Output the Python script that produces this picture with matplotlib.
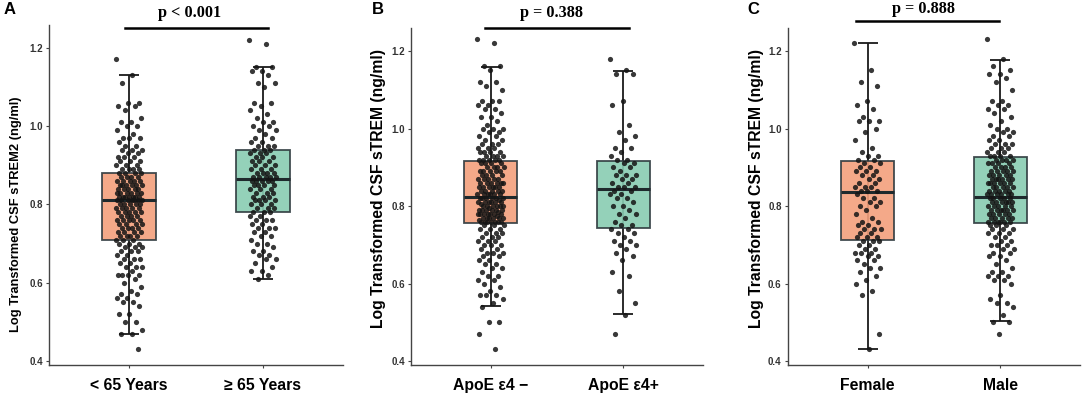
"""
Three box plots of log transformed CSF sTREM2 with jittered points:
age, ApoE e4 status and sex.
"""

import numpy as np
import matplotlib
matplotlib.use('Agg')
import matplotlib.pyplot as plt

plt.rcParams['font.family'] = ['Liberation Sans', 'DejaVu Sans']

################################################################################
#
# data
#
# panel A: age
age_labels = ['< 65 Years', '\u2265 65 Years']
age_young = [1.17, 1.13, 1.11, 1.06, 1.06, 1.05, 1.05, 1.04, 1.02, 1.01, 1.01, 1.00, 1.00,
             0.99, 0.98, 0.97, 0.97, 0.97, 0.96, 0.95, 0.95, 0.94, 0.94, 0.94, 0.93, 0.93,
             0.92, 0.92, 0.92, 0.91, 0.91, 0.91, 0.90, 0.90, 0.90, 0.89, 0.89, 0.89, 0.89,
             0.88, 0.88, 0.88,
             0.88, 0.87, 0.87, 0.87, 0.87, 0.86, 0.86, 0.86, 0.86, 0.86, 0.85, 0.85, 0.85,
             0.85, 0.85, 0.85, 0.84, 0.84, 0.84, 0.84, 0.84, 0.83, 0.83, 0.83, 0.83, 0.83,
             0.83, 0.82, 0.82, 0.82, 0.82, 0.82, 0.82, 0.82, 0.81, 0.81, 0.81, 0.81, 0.81,
             0.81, 0.81,
             0.80, 0.80, 0.80, 0.80, 0.80, 0.79, 0.79, 0.79, 0.79, 0.79, 0.78, 0.78, 0.78,
             0.78, 0.78, 0.77, 0.77, 0.77, 0.77, 0.76, 0.76, 0.76, 0.76, 0.76, 0.75, 0.75,
             0.75, 0.75, 0.74, 0.74, 0.74, 0.74, 0.73, 0.73, 0.73, 0.73, 0.72, 0.72, 0.72,
             0.72, 0.71, 0.71, 0.71,
             0.70, 0.70, 0.70, 0.69, 0.69, 0.69, 0.68, 0.68, 0.68, 0.67, 0.67, 0.66, 0.66,
             0.66, 0.65, 0.65, 0.64, 0.64, 0.64, 0.63, 0.62, 0.62, 0.62, 0.62, 0.61, 0.60,
             0.59, 0.58, 0.57, 0.57, 0.56, 0.56, 0.55, 0.55, 0.54, 0.52, 0.52, 0.50, 0.50,
             0.48, 0.47, 0.47, 0.43]
age_old = [1.22, 1.21, 1.15, 1.15, 1.14, 1.14, 1.13, 1.11, 1.11, 1.10, 1.06, 1.06, 1.05,
           1.04, 1.03, 1.02, 1.01, 1.01, 1.00, 1.00, 0.99, 0.99, 0.98, 0.97, 0.97, 0.96,
           0.96, 0.95, 0.95, 0.95, 0.94, 0.94,
           0.94, 0.93, 0.93, 0.93, 0.92, 0.92, 0.92, 0.91, 0.91, 0.91, 0.90, 0.90, 0.90,
           0.89, 0.89, 0.89, 0.88, 0.88, 0.88, 0.88, 0.87, 0.87, 0.87, 0.87, 0.87, 0.86,
           0.86, 0.86, 0.86, 0.86,
           0.85, 0.85, 0.85, 0.85, 0.84, 0.84, 0.84, 0.83, 0.83, 0.83, 0.82, 0.82, 0.82,
           0.81, 0.81, 0.81, 0.81, 0.80, 0.80, 0.80, 0.79, 0.79, 0.79, 0.78, 0.78, 0.78,
           0.77, 0.77, 0.76, 0.76, 0.76, 0.75, 0.75, 0.74, 0.74, 0.74, 0.73, 0.73, 0.72,
           0.72, 0.71, 0.70, 0.70, 0.69, 0.68, 0.68, 0.67, 0.67, 0.66, 0.66, 0.65, 0.64,
           0.63, 0.63, 0.62, 0.61]

# panel B: ApoE e4 carrier status
apoe_labels = ['ApoE \u03b54 \u2212', 'ApoE \u03b54+']
apoe_neg = [1.23, 1.22, 1.16, 1.16, 1.15, 1.12, 1.12, 1.11, 1.10, 1.07, 1.07, 1.07, 1.06,
            1.06, 1.05, 1.05, 1.04, 1.03, 1.03, 1.02, 1.01, 1.00, 1.00, 1.00, 0.99, 0.99,
            0.98, 0.98, 0.97, 0.97, 0.96, 0.96, 0.96, 0.95, 0.95, 0.95, 0.94, 0.94, 0.94,
            0.94, 0.93, 0.93, 0.93, 0.93, 0.92, 0.92, 0.92, 0.92, 0.92,
            0.91, 0.91, 0.91, 0.91, 0.90, 0.90, 0.90, 0.90, 0.89, 0.89, 0.89, 0.89, 0.89,
            0.88, 0.88, 0.88, 0.88, 0.87, 0.87, 0.87, 0.87, 0.87, 0.86, 0.86, 0.86, 0.86,
            0.86, 0.86, 0.85, 0.85, 0.85, 0.85, 0.85, 0.85, 0.84, 0.84, 0.84, 0.84, 0.84,
            0.83, 0.83, 0.83, 0.83, 0.83, 0.83, 0.82, 0.82, 0.82, 0.82,
            0.82, 0.82, 0.815, 0.81, 0.81, 0.81, 0.81, 0.81, 0.81, 0.805, 0.80, 0.80, 0.80,
            0.80, 0.80, 0.80, 0.795, 0.79, 0.79, 0.79, 0.79, 0.79, 0.79, 0.785, 0.78, 0.78,
            0.78, 0.78, 0.78, 0.78, 0.78, 0.775, 0.77, 0.77, 0.77, 0.77, 0.77, 0.77, 0.765,
            0.76, 0.76, 0.76, 0.76, 0.76, 0.76, 0.76,
            0.75, 0.75, 0.75, 0.74, 0.74, 0.74, 0.73, 0.73, 0.73, 0.72, 0.72, 0.72, 0.71,
            0.71, 0.71, 0.70, 0.70, 0.70, 0.69, 0.69, 0.68, 0.68, 0.68, 0.67, 0.67, 0.66,
            0.66, 0.65, 0.65, 0.64, 0.64, 0.63, 0.62, 0.62, 0.61, 0.61, 0.60, 0.59, 0.58,
            0.57, 0.57, 0.57, 0.56, 0.55, 0.54, 0.50, 0.50, 0.47, 0.43]
apoe_pos = [1.18, 1.15, 1.14, 1.14, 1.07, 1.06, 1.01, 0.99, 0.98, 0.97, 0.95, 0.95, 0.94,
            0.93, 0.92, 0.92,
            0.91, 0.91, 0.90, 0.90, 0.89, 0.88, 0.88, 0.88, 0.87, 0.87, 0.86, 0.86, 0.85,
            0.85, 0.85,
            0.84, 0.84, 0.83, 0.83, 0.82, 0.82, 0.81, 0.80, 0.80, 0.79, 0.78, 0.78, 0.77,
            0.76, 0.75, 0.75, 0.74,
            0.74, 0.73, 0.73, 0.72, 0.71, 0.71, 0.70, 0.70, 0.69, 0.68, 0.67, 0.66, 0.63,
            0.62, 0.58, 0.55, 0.52, 0.47]

# panel C: sex
sex_labels = ['Female', 'Male']
female = [1.22, 1.15, 1.12, 1.11, 1.07, 1.06, 1.05, 1.03, 1.02, 1.02, 1.02, 1.00, 0.99,
          0.97, 0.95, 0.94, 0.93, 0.93, 0.92, 0.92,
          0.91, 0.91, 0.90, 0.90, 0.89, 0.89, 0.89, 0.88, 0.88, 0.87, 0.87, 0.86, 0.86,
          0.85, 0.85, 0.85, 0.84, 0.84, 0.84,
          0.83, 0.82, 0.82, 0.81, 0.81, 0.80, 0.80, 0.79, 0.78, 0.77, 0.76, 0.76, 0.75,
          0.75, 0.74, 0.74, 0.74, 0.73, 0.73, 0.72, 0.72, 0.72, 0.71,
          0.71, 0.71, 0.70, 0.70, 0.69, 0.69, 0.68, 0.68, 0.68, 0.67, 0.67, 0.66, 0.66,
          0.65, 0.64, 0.64, 0.63, 0.62, 0.61, 0.60, 0.58, 0.57, 0.47, 0.43]
male = [1.23, 1.18, 1.16, 1.15, 1.14, 1.14, 1.13, 1.12, 1.10, 1.07, 1.07, 1.06, 1.06,
        1.05, 1.05, 1.04, 1.03, 1.02, 1.01, 1.00, 1.00, 0.99, 0.99, 0.98, 0.98, 0.97,
        0.97, 0.96, 0.96, 0.96, 0.95, 0.95, 0.95, 0.94, 0.94, 0.94, 0.93, 0.93, 0.93,
        0.93,
        0.92, 0.92, 0.92, 0.92, 0.91, 0.91, 0.91, 0.91, 0.90, 0.90, 0.90, 0.90, 0.89,
        0.89, 0.89, 0.89, 0.89, 0.88, 0.88, 0.88, 0.88, 0.88, 0.87, 0.87, 0.87, 0.87,
        0.87, 0.87, 0.86, 0.86, 0.86, 0.86, 0.86, 0.86, 0.85, 0.85, 0.85, 0.85, 0.85,
        0.84, 0.84, 0.84, 0.84, 0.84, 0.83, 0.83, 0.83, 0.83, 0.83, 0.83,
        0.82, 0.82, 0.82, 0.82, 0.82, 0.81, 0.81, 0.81, 0.81, 0.81, 0.81, 0.80, 0.80,
        0.80, 0.80, 0.80, 0.79, 0.79, 0.79, 0.79, 0.79, 0.79, 0.78, 0.78, 0.78, 0.78,
        0.78, 0.77, 0.77, 0.77, 0.77, 0.77, 0.76, 0.76, 0.76, 0.76, 0.76, 0.76, 0.75,
        0.75,
        0.75, 0.74, 0.74, 0.74, 0.73, 0.73, 0.73, 0.72, 0.72, 0.71, 0.71, 0.70, 0.70,
        0.70, 0.69, 0.69, 0.68, 0.68, 0.67, 0.67, 0.66, 0.65, 0.64, 0.63, 0.63, 0.62,
        0.62, 0.62, 0.61, 0.61, 0.60, 0.57, 0.56, 0.55, 0.55, 0.54, 0.52, 0.50, 0.50,
        0.47]

# box statistics: [group 1, group 2]
age_q1, age_med, age_q3 = [0.71, 0.78], [0.81, 0.865], [0.88, 0.94]
age_lo, age_hi = [0.47, 0.61], [1.13, 1.15]
apoe_q1, apoe_med, apoe_q3 = [0.755, 0.743], [0.824, 0.844], [0.915, 0.915]
apoe_lo, apoe_hi = [0.542, 0.521], [1.158, 1.148]
sex_q1, sex_med, sex_q3 = [0.713, 0.755], [0.836, 0.824], [0.915, 0.927]
sex_lo, sex_hi = [0.431, 0.503], [1.22, 1.178]

p_texts = ['p < 0.001', 'p = 0.388', 'p = 0.888']
ylabels = ['Log Transformed CSF sTREM2 (ng/ml)',
           'Log Transformed CSF sTREM (ng/ml)',
           'Log Transformed CSF sTREM (ng/ml)']
panel_letters = ['A', 'B', 'C']

################################################################################
#
# figure layout (pixel based, figure is 1084 x 395)
#
W, H = 1084, 395
fig = plt.figure(figsize=(W / 100, H / 100), dpi=100)

def px_axes(left, top, right, bottom):
    return fig.add_axes([left / W, 1 - bottom / H, (right - left) / W, (bottom - top) / H])

axes = [px_axes(49, 25, 343, 365), px_axes(411, 28.5, 703, 365), px_axes(788, 28.5, 1080, 365)]

fills = ['#F3A07C', '#88CCB2']
edge = '#2E3A3E'

panels = [
    (age_labels, [age_young, age_old], age_q1, age_med, age_q3, age_lo, age_hi),
    (apoe_labels, [apoe_neg, apoe_pos], apoe_q1, apoe_med, apoe_q3, apoe_lo, apoe_hi),
    (sex_labels, [female, male], sex_q1, sex_med, sex_q3, sex_lo, sex_hi),
]

# where the significance bar sits in each panel: (x0, x1, y)
bars = [(0.97, 2.04, 1.25), (0.96, 2.04, 1.258), (0.915, 1.99, 1.278)]
# text positions (figure pixels)
p_pos = [(190, 13), (551, 13), (923, 9)]
ylab_pos = [(16, 214), (379, 188), (756, 188)]
ylab_size = [9.3, 11.3, 11.3]
letter_pos = [(4, 9), (372, 9), (747, 9)]

golden = 0.6180339887

for i, ax in enumerate(axes):
    labels, groups, q1, med, q3, lo, hi = panels[i]
    pos = [1, 2]

    # errorbar style whisker that runs through the box
    ax.vlines(pos, lo, hi, color='#1a1a1a', lw=1.3, zorder=1)
    ax.hlines(lo, np.array(pos) - 0.075, np.array(pos) + 0.075, color='#1a1a1a', lw=1.3, zorder=1)
    ax.hlines(hi, np.array(pos) - 0.075, np.array(pos) + 0.075, color='#1a1a1a', lw=1.3, zorder=1)

    stats = [dict(med=med[k], q1=q1[k], q3=q3[k], whislo=q1[k], whishi=q3[k],
                  label=labels[k]) for k in range(2)]
    bp = ax.bxp(stats, positions=pos, widths=0.4, showfliers=False, showcaps=False,
                patch_artist=True, zorder=2,
                boxprops=dict(edgecolor=edge, linewidth=1.3),
                medianprops=dict(color='#1f2a2d', linewidth=2.2),
                whiskerprops=dict(linewidth=0))
    for patch, c in zip(bp['boxes'], fills):
        patch.set_facecolor(c)
        patch.set_alpha(0.9)
        patch.set_edgecolor(edge)

    # jittered points (deterministic jitter, +/- 0.1 around the category)
    for k, vals in enumerate(groups):
        vals = np.asarray(vals)
        n = len(vals)
        offs = ((np.arange(n) * golden) % 1.0 - 0.5) * 0.2
        ax.scatter(pos[k] + offs, vals, s=14, color='#151515', alpha=0.85,
                   linewidths=0, zorder=3)

    ax.set_xlim(0.4, 2.6)
    ax.set_ylim(0.39, 1.258)
    ax.set_yticks([0.4, 0.6, 0.8, 1.0, 1.2])
    ax.set_yticklabels(['0.4', '0.6', '0.8', '1.0', '1.2'])
    ax.set_xticks(pos)
    ax.set_xticklabels(labels, fontsize=11.3, fontweight='bold', color='black')
    for t in ax.get_yticklabels():
        t.set_fontsize(7)
        t.set_fontweight('bold')
        t.set_color('#333333')
    ax.tick_params(axis='y', length=2.5, width=0.8, color='#444444', pad=2)
    ax.tick_params(axis='x', length=2.5, width=0.8, color='#444444', pad=7)
    for s in ['top', 'right']:
        ax.spines[s].set_visible(False)
    for s in ['left', 'bottom']:
        ax.spines[s].set_color('#444444')
        ax.spines[s].set_linewidth(1.0)

    # significance bar and p value
    x0, x1, yb = bars[i]
    ax.plot([x0, x1], [yb, yb], color='black', lw=1.8, clip_on=False, zorder=4)
    fig.text(p_pos[i][0] / W, 1 - p_pos[i][1] / H, p_texts[i], ha='center', va='center',
             fontsize=11.7, fontweight='bold', family='Liberation Serif')

    # y label and panel letter
    fig.text(ylab_pos[i][0] / W, 1 - ylab_pos[i][1] / H, ylabels[i], rotation=90,
             ha='center', va='center', fontsize=ylab_size[i], fontweight='bold')
    fig.text(letter_pos[i][0] / W, 1 - letter_pos[i][1] / H, panel_letters[i],
             ha='left', va='center', fontsize=12, fontweight='bold')

fig.savefig('out.png', dpi=100)
